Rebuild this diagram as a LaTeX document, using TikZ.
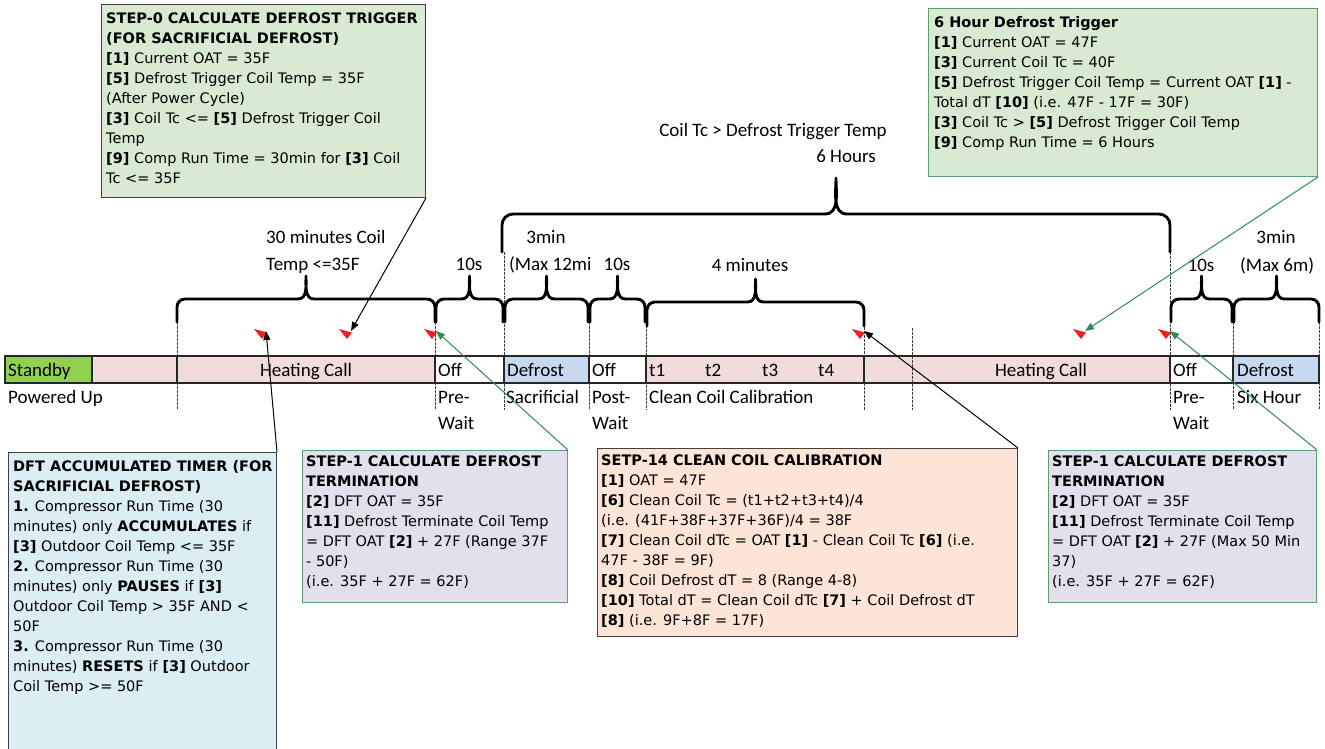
\documentclass[tikz,border=0pt]{standalone}
\usepackage{fontspec}
\setmainfont{Carlito}
\newfontfamily\boxfont{DejaVu Sans}
\usetikzlibrary{arrows.meta,calc}
\definecolor{gfill}{RGB}{217,234,211}
\definecolor{bfill}{RGB}{218,238,243}
\definecolor{pfill}{RGB}{228,223,236}
\definecolor{ofill}{RGB}{252,229,214}
\definecolor{stgreen}{RGB}{146,208,80}
\definecolor{hpink}{RGB}{242,220,219}
\definecolor{dblue}{RGB}{198,217,240}
\definecolor{cgreen}{RGB}{46,139,87}
\definecolor{bgreen}{RGB}{90,160,110}
\definecolor{mred}{RGB}{240,30,30}
\definecolor{dgray}{RGB}{60,60,60}
\tikzset{
  box/.style={draw=#1, line width=1pt, anchor=north west, inner sep=0pt},
  btext/.style={anchor=north west, inner sep=0pt, align=left,
    font=\boxfont\fontsize{14.5}{20}\selectfont},
  lbl/.style={inner sep=0pt, font=\fontsize{19}{26}\selectfont},
  barseg/.style={draw=black!85, line width=1.3pt},
  vdash/.style={dash pattern=on 2.5pt off 1.5pt, line width=0.8pt, dgray},
  brc/.style={line width=2.9pt, line cap=round, line join=round},
  conn/.style={line width=1pt, -{Triangle[length=9pt,width=7pt]}},
  mark red/.style={fill=mred}
}
% x1, x2, y of the bar, y of the ends, y of the tip, corner radius
\newcommand\tlbrace[6]{%
  \pgfmathsetmacro\tbA{#1+#6}%
  \pgfmathsetmacro\tbB{(#1+#2)/2-#6}%
  \pgfmathsetmacro\tbM{(#1+#2)/2}%
  \pgfmathsetmacro\tbC{(#1+#2)/2+#6}%
  \pgfmathsetmacro\tbD{#2-#6}%
  \pgfmathsetmacro\tbY{#3+#6}%
  \draw[brc] (#1,#4) -- (#1,\tbY) to[out=90,in=180] (\tbA,#3)
    -- (\tbB,#3) to[out=0,in=-90] (\tbM,#5)
    to[out=-90,in=180] (\tbC,#3) -- (\tbD,#3)
    to[out=0,in=90] (#2,\tbY) -- (#2,#4);}
\begin{document}
\begin{tikzpicture}[x=1pt,y=-1pt]
\useasboundingbox (0,0) rectangle (1325,749);

% dashed verticals
\foreach \xx/\yt in {177/322,435/322,504/252,589/322,646/325,864/327,1170/252,1233/322,1319/322}
  \draw[vdash] (\xx,\yt) -- (\xx,410);

% timeline bar
\draw[barseg, fill=stgreen] (5,356) rectangle (92,383);
\draw[barseg, fill=hpink] (92,356) rectangle (177,383);
\draw[barseg, fill=hpink] (177,356) rectangle (435,383);
\draw[barseg, fill=white] (435,356) rectangle (504,383);
\draw[barseg, fill=dblue] (504,356) rectangle (589,383);
\draw[barseg, fill=white] (589,356) rectangle (646,383);
\draw[barseg, fill=hpink] (646,356) rectangle (864,383);
\draw[barseg, fill=hpink] (864,356) rectangle (1170,383);
\draw[barseg, fill=white] (1170,356) rectangle (1233,383);
\draw[barseg, fill=dblue] (1233,356) rectangle (1319,383);
\draw[vdash] (912,328) -- (912,410);

% bar labels
\node[lbl, anchor=base west] (lsb) at (8,376) {Standby};
\node[lbl, anchor=base] (lhc1) at (306,376) {Heating Call};
\node[lbl, anchor=base west] (loff1) at (438,376) {Off};
\node[lbl, anchor=base west] (ldef1) at (507,376) {Defrost};
\node[lbl, anchor=base west] (loff2) at (592,376) {Off};
\node[lbl, anchor=base west] (lt1) at (649,376) {t1};
\node[lbl, anchor=base west] (lt2) at (705,376) {t2};
\node[lbl, anchor=base west] (lt3) at (762,376) {t3};
\node[lbl, anchor=base west] (lt4) at (818,376) {t4};
\node[lbl, anchor=base] (lhc2) at (1041,376) {Heating Call};
\node[lbl, anchor=base west] (loff3) at (1173,376) {Off};
\node[lbl, anchor=base west] (ldef2) at (1237,376) {Defrost};

% below bar labels
\node[lbl, anchor=base west] (lpu) at (8,403) {Powered Up};
\node[lbl, anchor=base west] (lpre1) at (438,403) {Pre-};
\node[lbl, anchor=base west] (lwait1) at (438,429) {Wait};
\node[lbl, anchor=base west] (lsac) at (506,403) {Sacrificial};
\node[lbl, anchor=base west] (lpost) at (592,403) {Post-};
\node[lbl, anchor=base west] (lwait2) at (592,429) {Wait};
\node[lbl, anchor=base west] (lccc) at (649,403) {Clean Coil Calibration};
\node[lbl, anchor=base west] (lpre2) at (1173,403) {Pre-};
\node[lbl, anchor=base west] (lwait3) at (1173,429) {Wait};
\node[lbl, anchor=base west] (lsix) at (1237,403) {Six Hour};

% braces
\tlbrace{177}{435}{299}{322}{276}{8}
\tlbrace{436}{503}{299}{322}{276}{8}
\tlbrace{505}{588}{299}{322}{276}{8}
\tlbrace{590}{645}{299}{322}{276}{8}
\tlbrace{647}{864}{302}{326}{279}{8}
\tlbrace{502}{1170}{214}{252}{178}{11}
\tlbrace{1171}{1232}{299}{322}{276}{8}
\tlbrace{1234}{1319}{299}{322}{276}{8}

% brace labels
\node[lbl, anchor=base west] (b30a) at (266,243) {30 minutes Coil};
\node[lbl, anchor=base west] (b30b) at (266,270) {Temp <=35F};
\node[lbl, anchor=base] (b10a) at (469,270) {10s};
\node[lbl, anchor=base] (b3a) at (546,243) {3min};
\node[lbl, anchor=base west] (b12) at (509,270) {(Max 12mi};
\node[lbl, anchor=base] (b10b) at (617,270) {10s};
\node[lbl, anchor=base] (b4) at (750,271) {4 minutes};
\node[lbl, anchor=base] (b6a) at (773,137) {Coil Tc > Defrost Trigger Temp};
\node[lbl, anchor=base] (b6b) at (846,162) {6 Hours};
\node[lbl, anchor=base] (b10c) at (1201,271) {10s};
\node[lbl, anchor=base] (b3b) at (1276,243) {3min};
\node[lbl, anchor=base] (b6m) at (1277,271) {(Max 6m)};

% boxes
\node[box=black!75, fill=gfill, minimum width=324pt, minimum height=193pt] (s0) at (101,4) {};
\node[btext] (s0t) at (106,12.2) {\textbf{STEP-0 CALCULATE DEFROST TRIGGER}\\
\textbf{(FOR SACRIFICIAL DEFROST)}\\
\textbf{[1]} Current OAT = 35F\\
\textbf{[5]} Defrost Trigger Coil Temp = 35F\\
(After Power Cycle)\\
\textbf{[3]} Coil Tc <= \textbf{[5]} Defrost Trigger Coil\\
Temp\\
\textbf{[9]} Comp Run Time = 30min for \textbf{[3]} Coil\\
Tc <= 35F};

\node[box=bgreen, fill=gfill, minimum width=389pt, minimum height=168pt] (s6) at (928,8) {};
\node[btext] (s6t) at (934,16.5) {\textbf{6 Hour Defrost Trigger}\\
\textbf{[1]} Current OAT = 47F\\
\textbf{[3]} Current Coil Tc = 40F\\
\textbf{[5]} Defrost Trigger Coil Temp = Current OAT \textbf{[1]} -\\
Total dT \textbf{[10]} (i.e. 47F - 17F = 30F)\\
\textbf{[3]} Coil Tc > \textbf{[5]} Defrost Trigger Coil Temp\\
\textbf{[9]} Comp Run Time = 6 Hours};

\node[box=black!75, fill=bfill, minimum width=268pt, minimum height=310pt] (dft) at (8,452) {};
\node[btext] (dftt) at (13,460) {\textbf{DFT ACCUMULATED TIMER (FOR}\\
\textbf{SACRIFICIAL DEFROST)}\\
\textbf{1.} Compressor Run Time (30\\
minutes) only \textbf{ACCUMULATES} if\\
\textbf{[3]} Outdoor Coil Temp <= 35F\\
\textbf{2.} Compressor Run Time (30\\
minutes) only \textbf{PAUSES} if \textbf{[3]}\\
Outdoor Coil Temp > 35F AND <\\
50F\\
\textbf{3.} Compressor Run Time (30\\
minutes) \textbf{RESETS} if \textbf{[3]} Outdoor\\
Coil Temp >= 50F};

\node[box=bgreen, fill=pfill, minimum width=265pt, minimum height=152pt] (st1a) at (302,450) {};
\node[btext] (st1at) at (306,456) {\textbf{STEP-1 CALCULATE DEFROST}\\
\textbf{TERMINATION}\\
\textbf{[2]} DFT OAT = 35F\\
\textbf{[11]} Defrost Terminate Coil Temp\\
= DFT OAT \textbf{[2]} + 27F (Range 37F\\
- 50F)\\
(i.e. 35F + 27F = 62F)};

\node[box=black!75, fill=ofill, minimum width=420pt, minimum height=188pt] (s14) at (597,448) {};
\node[btext] (s14t) at (601,455) {\textbf{SETP-14 CLEAN COIL CALIBRATION}\\
\textbf{[1]} OAT = 47F\\
\textbf{[6]} Clean Coil Tc = (t1+t2+t3+t4)/4\\
(i.e. (41F+38F+37F+36F)/4 = 38F\\
\textbf{[7]} Clean Coil dTc = OAT \textbf{[1]} - Clean Coil Tc \textbf{[6]} (i.e.\\
47F - 38F = 9F)\\
\textbf{[8]} Coil Defrost dT = 8 (Range 4-8)\\
\textbf{[10]} Total dT = Clean Coil dTc \textbf{[7]} + Coil Defrost dT\\
\textbf{[8]} (i.e. 9F+8F = 17F)};

\node[box=bgreen, fill=pfill, minimum width=268pt, minimum height=152pt] (st1b) at (1048,450) {};
\node[btext] (st1bt) at (1052,456) {\textbf{STEP-1 CALCULATE DEFROST}\\
\textbf{TERMINATION}\\
\textbf{[2]} DFT OAT = 35F\\
\textbf{[11]} Defrost Terminate Coil Temp\\
= DFT OAT \textbf{[2]} + 27F (Max 50 Min\\
37)\\
(i.e. 35F + 27F = 62F)};

% markers
\coordinate (m1) at (266,331);
\coordinate (m2) at (351,331);
\coordinate (m3) at (436,331);
\coordinate (m4) at (864,331);
\coordinate (m5) at (1085,331);
\coordinate (m6) at (1170,331);
\foreach \m in {m1,m2,m3,m4,m5,m6}
  \fill[mark red] ($(\m)+(-12,-2)$) -- ($(\m)+(1,1.5)$) -- ($(\m)+(-4,8)$) -- cycle;

% connectors
\draw[conn, black] (dft.north east) -- (m1);
\draw[conn, black] (s0.south east) -- (m2);
\draw[conn, cgreen] (st1a.north east) -- (m3);
\draw[conn, black] (s14.north east) -- (m4);
\draw[conn, cgreen] (s6.south east) -- (m5);
\draw[conn, cgreen] (st1b.north east) -- (m6);
\end{tikzpicture}
\end{document}
